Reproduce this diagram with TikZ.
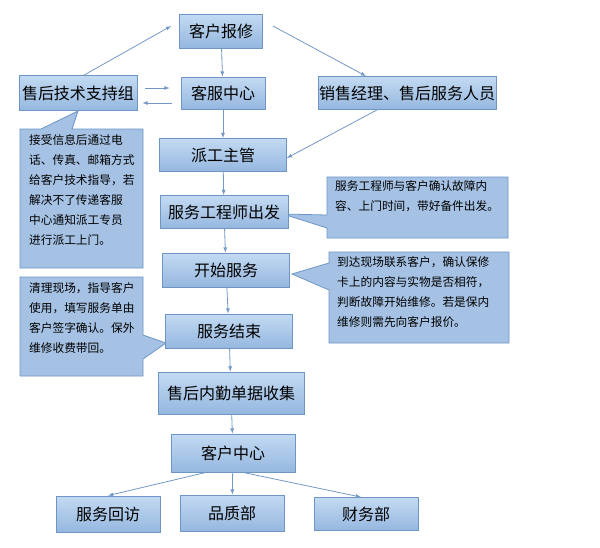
\documentclass[tikz,border=0pt]{standalone}
\usepackage{fontspec}
\setmainfont{Noto Sans CJK SC}
\definecolor{boxtop}{HTML}{C3DAF2}
\definecolor{boxbot}{HTML}{95B7DF}
\definecolor{boxline}{HTML}{6D95C6}
\definecolor{arrowc}{HTML}{7398C8}
\begin{document}
\begin{tikzpicture}[x=1pt,y=-1pt]
        \tikzset{box/.style={draw=boxline, thick, rectangle, top color=boxtop, bottom color=boxbot, minimum height=34pt, minimum width=127pt, font=\fontsize{16}{18}\selectfont, inner sep=1pt}};
        \tikzset{smallbox/.style={box, minimum width=104pt, minimum height=36pt}};
        \tikzset{callout/.style={draw=boxline, thick, fill=boxbot!85!white}};
        \tikzset{note/.style={align=left, anchor=north west, font=\fontsize{11.7}{20}\selectfont, inner sep=0pt}};
        \tikzset{link/.style={->, thick, draw=arrowc, >=latex}};

        \useasboundingbox (0,0) rectangle (600,547);

        % callout shapes
        \draw[callout] (20,129) -- (41,129) -- (78,111) -- (72,129) -- (143,129) -- (143,268) -- (20,268) -- cycle;
        \draw[callout] (327,177) -- (508,177) -- (508,238) -- (327,238) -- (327,228) -- (283,214) -- (327,215) -- cycle;
        \draw[callout] (329,252) -- (509,252) -- (509,343) -- (329,343) -- (329,290) -- (292,274) -- (329,263) -- cycle;
        \draw[callout] (20,277) -- (143,277) -- (143,335) -- (166,343) -- (143,359) -- (143,376) -- (20,376) -- cycle;

        \node(noteleft)[note] at (29,134){接受信息后通过电\\话、传真、邮箱方式\\给客户技术指导，若\\解决不了传递客服\\中心通知派工专员\\进行派工上门。};
        \node(noteengineer)[note] at (335,180){服务工程师与客户确认故障内\\容、上门时间，带好备件出发。};
        \node(notestart)[note] at (337,256){到达现场联系客户，确认保修\\卡上的内容与实物是否相符，\\判断故障开始维修。若是保内\\维修则需先向客户报价。};
        \node(noteend)[note] at (29,282){清理现场，指导客户\\使用，填写服务单由\\客户签字确认。保外\\维修收费带回。};

        % main flow
        \node(report)[box, minimum width=83pt] at (221,31){客户报修};
        \node(support)[box, minimum width=118pt, minimum height=35pt] at (78,93){售后技术支持组};
        \node(service)[box, minimum width=84pt, minimum height=32pt] at (223,93){客服中心};
        \node(sales)[box, minimum width=176pt, minimum height=33pt] at (407,93){销售经理、售后服务人员};
        \node(dispatch)[box, minimum height=33pt] at (223,155){派工主管};
        \node(depart)[box, minimum width=128pt, minimum height=33pt] at (224,212){服务工程师出发};
        \node(start)[box] at (226,270){开始服务};
        \node(finish)[box] at (229,331){服务结束};
        \node(collect)[box, minimum width=146pt, minimum height=42pt] at (231,393){售后内勤单据收集};
        \node(center)[box, minimum width=124pt, minimum height=38pt] at (233,453){客户中心};
        \node(visit)[smallbox] at (108,514){服务回访};
        \node(quality)[smallbox] at (232,513){品质部};
        \node(finance)[smallbox, minimum height=33pt] at (366,514){财务部};

        \draw[link] (support.north) ++(6,0) -- ([xshift=-8pt,yshift=5pt]report.west);
        \draw[link] ([xshift=10pt,yshift=5pt]report.east) -- ([xshift=-41pt]sales.north);
        \draw[link] (report) -- (service);
        \draw[link] ([xshift=-9pt,yshift=-10pt]service.west) -- ([xshift=5pt,yshift=-10pt]support.east);
        \draw[link] ([xshift=8pt,yshift=5pt]support.east) -- ([xshift=-11pt,yshift=5pt]service.west);
        \draw[link] (service) -- (dispatch);
        \draw[link] ([xshift=-30pt]sales.south) -- ([yshift=-3pt]dispatch.east);
        \draw[link] (dispatch) -- (depart);
        \draw[link] (depart) -- (start);
        \draw[link] (start) -- (finish);
        \draw[link] (finish) -- (collect);
        \draw[link] (collect) -- (center);
        \draw[link] ([xshift=-27pt]center.south) -- (visit.north);
        \draw[link] (center) -- (quality);
        \draw[link] ([xshift=10pt]center.south) -- ([xshift=-5pt]finance.north);
    \end{tikzpicture}
\end{document}
